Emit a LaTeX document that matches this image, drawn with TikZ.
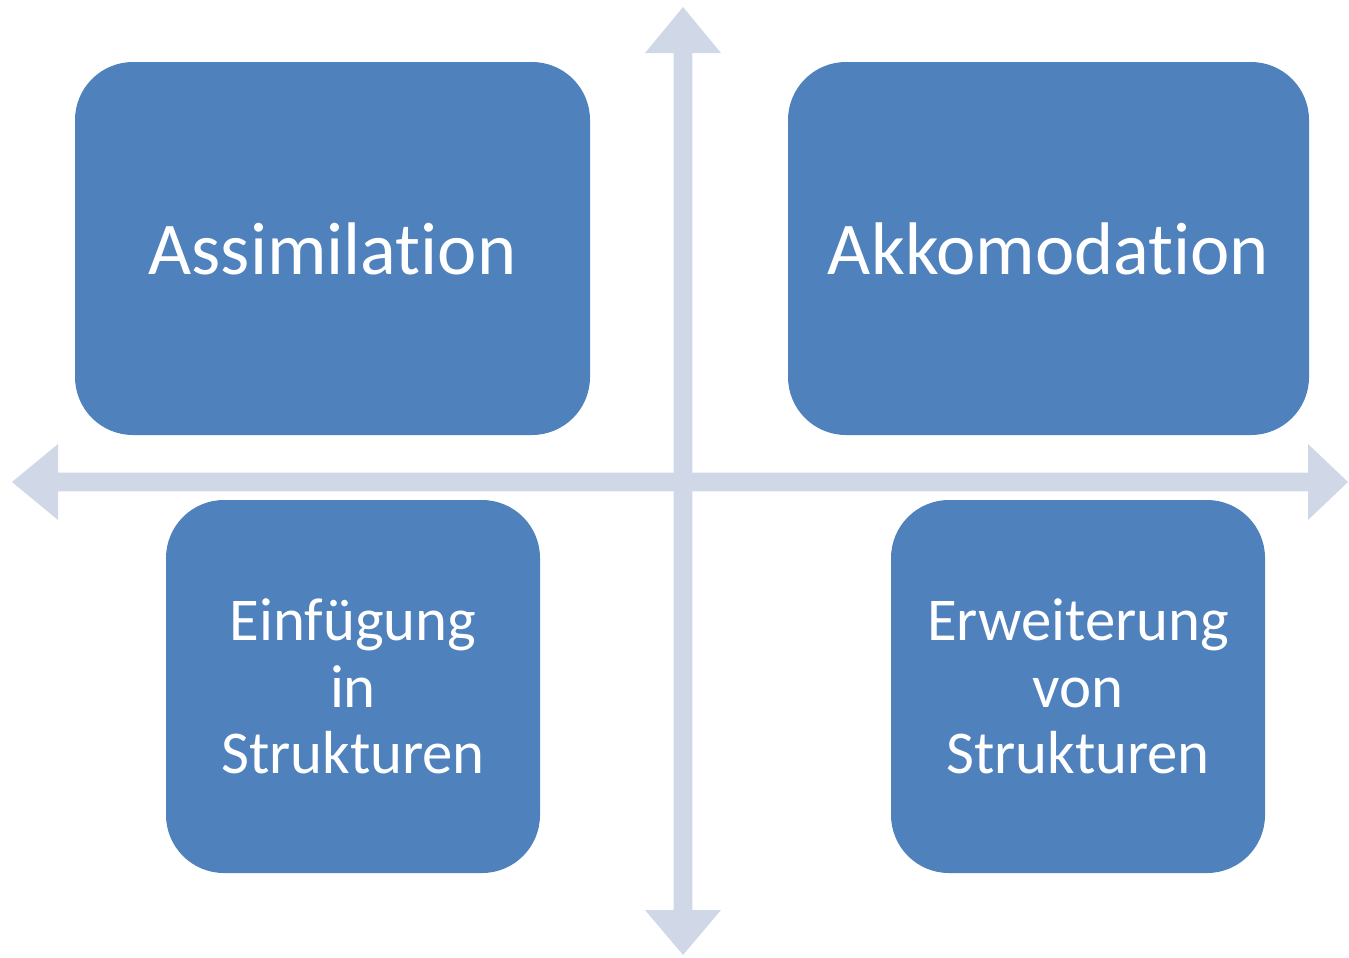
\documentclass[tikz,border=0pt]{standalone}
\usepackage{fontspec}
\setmainfont{Carlito}[Ligatures=NoCommon]
\definecolor{boxblue}{HTML}{4F81BD}
\definecolor{axisgray}{HTML}{D0D8E8}
\tikzset{
  phase/.style={draw=none,fill=boxblue,rounded corners=0.58cm,text=white,align=center,inner sep=0pt},
  bigphase/.style={phase,minimum width=5.15cm,minimum height=3.73cm,font=\fontsize{21.2}{26}\selectfont},
  smallphase/.style={phase,minimum width=3.74cm,minimum height=3.73cm,font=\fontsize{17.3}{19}\selectfont}
}
\begin{document}
\begin{tikzpicture}
    \def\cx{6.83} \def\cy{4.75} % Mittelpunkt
    \def\t{0.093} \def\h{0.38}
    \useasboundingbox (0,0) rectangle (13.49,9.57);
    % Achsen
    \fill[axisgray] (\cx-\t,0.47)--(\cx-\t,9.04)--(\cx-\h,9.04)--(\cx,9.50)--(\cx+\h,9.04)--(\cx+\t,9.04)
        --(\cx+\t,0.47)--(\cx+\h,0.47)--(\cx,0.02)--(\cx-\h,0.47)--cycle;
    \fill[axisgray] (0.58,\cy-\t)--(13.08,\cy-\t)--(13.08,\cy-\h)--(13.48,\cy)--(13.08,\cy+\h)--(13.08,\cy+\t)
        --(0.58,\cy+\t)--(0.58,\cy+\h)--(0.12,\cy)--(0.58,\cy-\h)--cycle;
    % Kaesten
    \node[bigphase] (assim) at (3.325,7.085) {Assimilation};
    \node[bigphase,minimum width=5.21cm] (akkom) at (10.485,7.085) {Akkomodation};
    \node[smallphase] (einf) at (3.53,2.705) {Einfügung\\in\\Strukturen};
    \node[smallphase] (erw) at (10.78,2.705) {Erweiterung\\von\\Strukturen};
\end{tikzpicture}
\end{document}
